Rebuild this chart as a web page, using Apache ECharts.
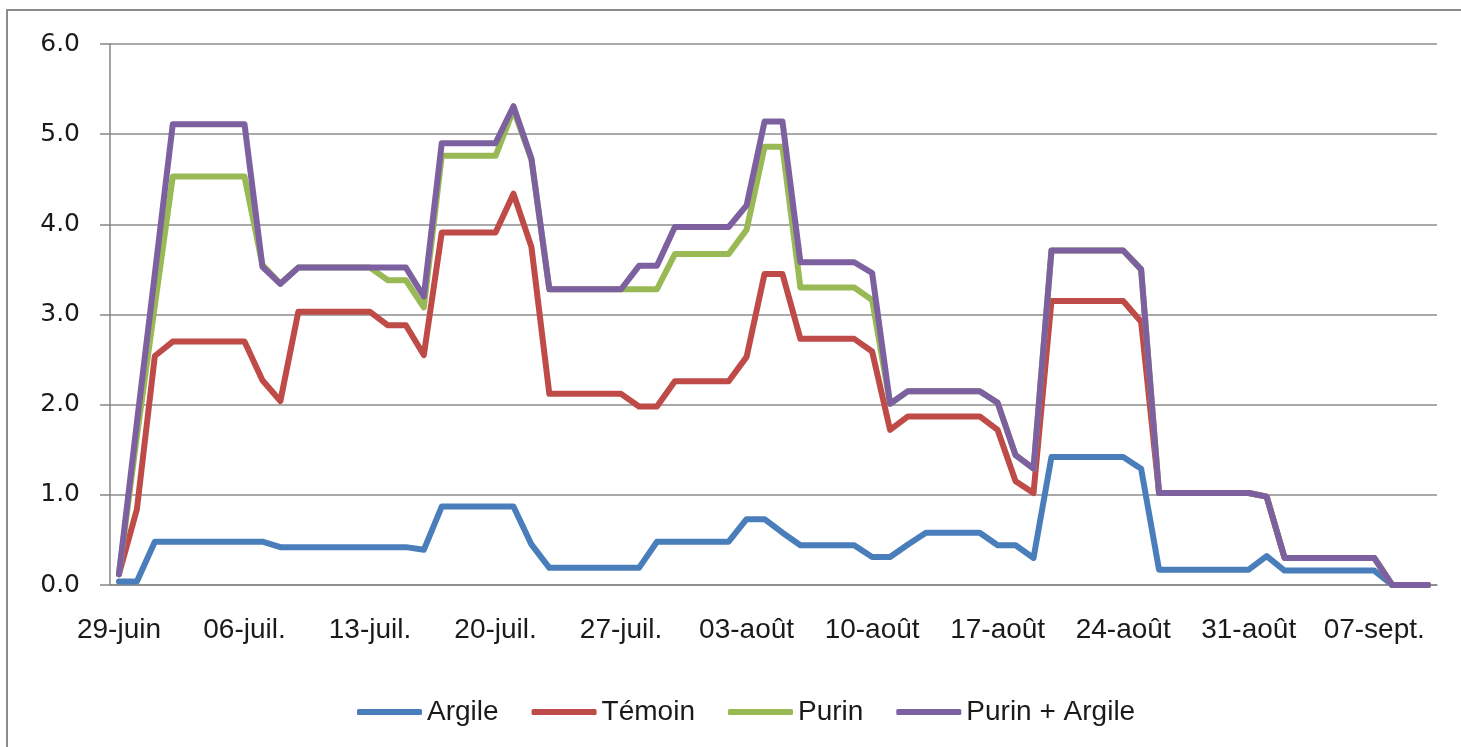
<!DOCTYPE html>
<html>
<head>
<meta charset="utf-8">
<script src="https://cdn.jsdelivr.net/npm/echarts@6/dist/echarts.min.js"></script>
<style>
  html, body { margin: 0; padding: 0; background: #fff; }
  #chart { width: 1461px; height: 747px; }
  .frame { position: absolute; left: 6px; top: 9px; width: 1500px; height: 800px;
           border-left: 2px solid #8c8c8c; border-top: 2px solid #8c8c8c; pointer-events: none; }
</style>
</head>
<body>
<div id="chart"></div>
<div class="frame"></div>
<script>
// dates, 29 june -> 10 sept
var days = [
  '29-juin','30-juin',
  '01-juil.','02-juil.','03-juil.','04-juil.','05-juil.','06-juil.','07-juil.','08-juil.','09-juil.','10-juil.',
  '11-juil.','12-juil.','13-juil.','14-juil.','15-juil.','16-juil.','17-juil.','18-juil.','19-juil.','20-juil.',
  '21-juil.','22-juil.','23-juil.','24-juil.','25-juil.','26-juil.','27-juil.','28-juil.','29-juil.','30-juil.','31-juil.',
  '01-août','02-août','03-août','04-août','05-août','06-août','07-août','08-août','09-août','10-août',
  '11-août','12-août','13-août','14-août','15-août','16-août','17-août','18-août','19-août','20-août',
  '21-août','22-août','23-août','24-août','25-août','26-août','27-août','28-août','29-août','30-août','31-août',
  '01-sept.','02-sept.','03-sept.','04-sept.','05-sept.','06-sept.','07-sept.','08-sept.','09-sept.','10-sept.'
];

var argile = [
  0.04, 0.04, 0.48, 0.48, 0.48, 0.48, 0.48, 0.48, 0.48, 0.42,
  0.42, 0.42, 0.42, 0.42, 0.42, 0.42, 0.42, 0.39, 0.87, 0.87,
  0.87, 0.87, 0.87, 0.45, 0.19, 0.19, 0.19, 0.19, 0.19, 0.19,
  0.48, 0.48, 0.48, 0.48, 0.48, 0.73, 0.73, 0.58, 0.44, 0.44,
  0.44, 0.44, 0.31, 0.31, 0.45, 0.58, 0.58, 0.58, 0.58, 0.44,
  0.44, 0.30, 1.42, 1.42, 1.42, 1.42, 1.42, 1.29, 0.17, 0.17,
  0.17, 0.17, 0.17, 0.17, 0.32, 0.16, 0.16, 0.16, 0.16, 0.16,
  0.16, 0, 0, 0
];
var temoin = [
  0.12, 0.84, 2.54, 2.70, 2.70, 2.70, 2.70, 2.70, 2.27, 2.04,
  3.03, 3.03, 3.03, 3.03, 3.03, 2.88, 2.88, 2.55, 3.91, 3.91,
  3.91, 3.91, 4.34, 3.75, 2.12, 2.12, 2.12, 2.12, 2.12, 1.98,
  1.98, 2.26, 2.26, 2.26, 2.26, 2.53, 3.45, 3.45, 2.73, 2.73,
  2.73, 2.73, 2.59, 1.72, 1.87, 1.87, 1.87, 1.87, 1.87, 1.72,
  1.15, 1.02, 3.15, 3.15, 3.15, 3.15, 3.15, 2.92, 1.02, 1.02,
  1.02, 1.02, 1.02, 1.02, 0.98, 0.30, 0.30, 0.30, 0.30, 0.30,
  0.30, 0, 0, 0
];
var purin = [
  0.12, 1.65, 3.10, 4.53, 4.53, 4.53, 4.53, 4.53, 3.55, 3.34,
  3.52, 3.52, 3.52, 3.52, 3.52, 3.38, 3.38, 3.08, 4.76, 4.76,
  4.76, 4.76, 5.27, 4.72, 3.28, 3.28, 3.28, 3.28, 3.28, 3.28,
  3.28, 3.67, 3.67, 3.67, 3.67, 3.94, 4.86, 4.86, 3.30, 3.30,
  3.30, 3.30, 3.16, 2.01, 2.15, 2.15, 2.15, 2.15, 2.15, 2.02,
  1.44, 1.29, 3.71, 3.71, 3.71, 3.71, 3.71, 3.50, 1.02, 1.02,
  1.02, 1.02, 1.02, 1.02, 0.98, 0.30, 0.30, 0.30, 0.30, 0.30,
  0.30, 0, 0, 0
];
var purinArgile = [
  0.12, 1.80, 3.45, 5.11, 5.11, 5.11, 5.11, 5.11, 3.53, 3.34,
  3.52, 3.52, 3.52, 3.52, 3.52, 3.52, 3.52, 3.20, 4.90, 4.90,
  4.90, 4.90, 5.31, 4.73, 3.28, 3.28, 3.28, 3.28, 3.28, 3.54,
  3.54, 3.97, 3.97, 3.97, 3.97, 4.21, 5.14, 5.14, 3.58, 3.58,
  3.58, 3.58, 3.46, 2.01, 2.15, 2.15, 2.15, 2.15, 2.15, 2.02,
  1.44, 1.29, 3.71, 3.71, 3.71, 3.71, 3.71, 3.50, 1.02, 1.02,
  1.02, 1.02, 1.02, 1.02, 0.98, 0.30, 0.30, 0.30, 0.30, 0.30,
  0.30, 0, 0, 0
];

var names = ['Argile', 'Témoin', 'Purin', 'Purin + Argile'];
var colors = ['#4a7ebb', '#be4b48', '#98b954', '#7d60a0'];
var values = [argile, temoin, purin, purinArgile];

var series = [];
for (var i = 0; i < names.length; i++) {
  series.push({
    name: names[i],
    type: 'line',
    data: values[i],
    symbol: 'none',
    color: colors[i],
    lineStyle: { width: 6, color: colors[i], join: 'round', cap: 'round' }
  });
}

var option = {
  animation: false,
  backgroundColor: '#fff',
  grid: { left: 110, right: 24, top: 44, bottom: 162 },
  legend: {
    left: 352,
    top: 693,
    icon: 'roundRect',
    itemWidth: 65,
    itemHeight: 6,
    itemGap: 33,
    textStyle: { fontFamily: 'Liberation Sans', fontSize: 28, color: '#1a1a1a' },
    data: names
  },
  xAxis: {
    type: 'category',
    data: days,
    boundaryGap: true,
    axisLine: { lineStyle: { color: '#868686', width: 1.5 } },
    axisTick: { interval: 6, length: 10, lineStyle: { color: '#868686', width: 1.5 } },
    axisLabel: {
      interval: 6,
      margin: 31,
      fontFamily: 'Liberation Sans',
      fontSize: 28,
      color: '#1a1a1a'
    }
  },
  yAxis: {
    type: 'value',
    min: 0,
    max: 6,
    interval: 1,
    axisLine: { show: true, lineStyle: { color: '#868686', width: 1.5 } },
    axisTick: { show: true, length: 10, lineStyle: { color: '#868686', width: 1.5 } },
    splitLine: { lineStyle: { color: '#8c8c8c', width: 1.5 } },
    axisLabel: {
      margin: 30,
      fontFamily: 'DejaVu Sans',
      fontSize: 25,
      color: '#1a1a1a',
      formatter: function (v) { return v.toFixed(1); }
    }
  },
  series: series
};

var myChart = echarts.init(document.getElementById('chart'));
myChart.setOption(option);
</script>
</body>
</html>
